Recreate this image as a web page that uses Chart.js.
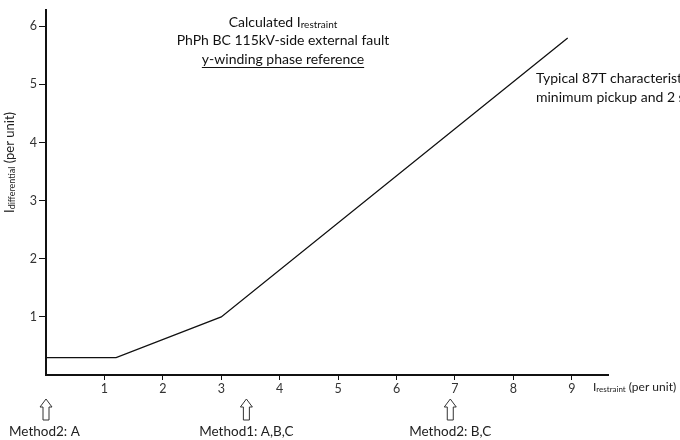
<!DOCTYPE html>
<html>
<head>
<meta charset="utf-8">
<script src="https://cdn.jsdelivr.net/npm/chart.js@4/dist/chart.umd.min.js"></script>
<style>
  html, body { margin: 0; padding: 0; background: #fff; }
  #wrap { width: 680px; height: 440px; }
</style>
</head>
<body>
<div id="wrap"><canvas id="myChart" width="680" height="440"></canvas></div>
<script>
// characteristic curve (restraint -> differential, per unit)
const xRestraint = [0, 1.2, 3, 8.93];
const yDifferential = [0.3, 0.3, 1, 5.8];
const xTicks = [1, 2, 3, 4, 5, 6, 7, 8, 9];
const yTicks = [1, 2, 3, 4, 5, 6];
// where each method lands on the restraint axis
const methodLabels = ['Method2: A', 'Method1: A,B,C', 'Method2: B,C'];
const methodValues = [0, 3.43, 6.92];

const FONT = 'Lato, "Open Sans", sans-serif';

// draw text with a small subscript part, returns end x
function subText(ctx, x, y, main, sub, size, subSize) {
  ctx.font = size + 'px ' + FONT;
  ctx.fillText(main, x, y);
  let w = ctx.measureText(main).width;
  ctx.font = subSize + 'px ' + FONT;
  ctx.fillText(sub, x + w, y + 1);
  return x + w + ctx.measureText(sub).width;
}

function upArrow(ctx, cx, top, h) {
  ctx.beginPath();
  ctx.moveTo(cx, top);
  ctx.lineTo(cx + 6, top + 8);
  ctx.lineTo(cx + 3, top + 8);
  ctx.lineTo(cx + 3, top + h);
  ctx.lineTo(cx - 3, top + h);
  ctx.lineTo(cx - 3, top + 8);
  ctx.lineTo(cx - 6, top + 8);
  ctx.closePath();
  ctx.fillStyle = '#fff';
  ctx.fill();
  ctx.strokeStyle = '#333';
  ctx.lineWidth = 1;
  ctx.stroke();
}

const notes = {
  id: 'notes',
  afterDraw(chart) {
    const ctx = chart.ctx;
    const xs = chart.scales.x;
    ctx.save();
    ctx.fillStyle = '#111';
    ctx.textBaseline = 'alphabetic';

    // title block
    ctx.textAlign = 'left';
    ctx.font = '14px ' + FONT;
    let w1 = ctx.measureText('Calculated I').width;
    ctx.font = '10px ' + FONT;
    let w2 = ctx.measureText('restraint').width;
    subText(ctx, 283 - (w1 + w2) / 2, 27, 'Calculated I', 'restraint', 14, 10);
    ctx.textAlign = 'center';
    ctx.font = '14px ' + FONT;
    ctx.fillText('PhPh BC 115kV-side external fault', 283, 45);
    ctx.fillText('y-winding phase reference', 283, 64);
    let uw = ctx.measureText('y-winding phase reference').width;
    ctx.fillRect(283 - uw / 2, 67, uw, 1);

    // right note (runs off the edge)
    ctx.textAlign = 'left';
    ctx.fillText('Typical 87T characteristic with', 536, 83);
    ctx.fillText('minimum pickup and 2 slopes', 536, 102);

    // axis titles
    ctx.fillStyle = '#222';
    let ex = subText(ctx, 593, 391, 'I', 'restraint', 12, 8);
    ctx.font = '12px ' + FONT;
    ctx.fillText(' (per unit)', ex, 391);

    ctx.save();
    ctx.translate(14, 213);
    ctx.rotate(-Math.PI / 2);
    ex = subText(ctx, 0, 0, 'I', 'differential', 13, 9);
    ctx.font = '13px ' + FONT;
    ctx.fillText(' (per unit)', ex, 0);
    ctx.restore();

    // method arrows + labels
    ctx.font = '13.5px ' + FONT;
    methodValues.forEach((v, i) => {
      const px = xs.getPixelForValue(v);
      upArrow(ctx, px, 399, 21);
      ctx.fillStyle = '#222';
      ctx.textAlign = i === 0 ? 'left' : 'center';
      ctx.fillText(methodLabels[i], i === 0 ? 9 : px, 436);
    });
    ctx.restore();
  }
};

const ctx = document.getElementById('myChart').getContext('2d');
const chart = new Chart(ctx, {
  type: 'scatter',
  data: {
    datasets: [{
      data: xRestraint.map((x, i) => ({ x: x, y: yDifferential[i] })),
      showLine: true,
      borderColor: '#111',
      borderWidth: 1.3,
      pointRadius: 0,
      tension: 0
    }]
  },
  options: {
    responsive: false,
    animation: false,
    layout: { padding: { top: 8, right: 72, bottom: 0, left: 0 } },
    plugins: { legend: { display: false }, tooltip: { enabled: false } },
    scales: {
      x: {
        type: 'linear',
        min: 0,
        max: 9.62,
        afterBuildTicks: s => { s.ticks = xTicks.map(v => ({ value: v })); },
        afterFit: s => { s.height = 65; },
        border: { color: '#111', width: 2 },
        grid: { drawOnChartArea: false, tickLength: 5, tickColor: '#111' },
        ticks: { color: '#333', font: { family: FONT, size: 12.5 }, padding: 1, maxRotation: 0 }
      },
      y: {
        type: 'linear',
        min: 0,
        max: 6.29,
        afterBuildTicks: s => { s.ticks = yTicks.map(v => ({ value: v })); },
        afterFit: s => { s.width = 46; },
        border: { color: '#111', width: 2 },
        grid: { drawOnChartArea: false, tickLength: 7, tickColor: '#111' },
        ticks: { color: '#333', font: { family: FONT, size: 12.5 }, padding: 2 }
      }
    }
  },
  plugins: [notes]
});
</script>
</body>
</html>
